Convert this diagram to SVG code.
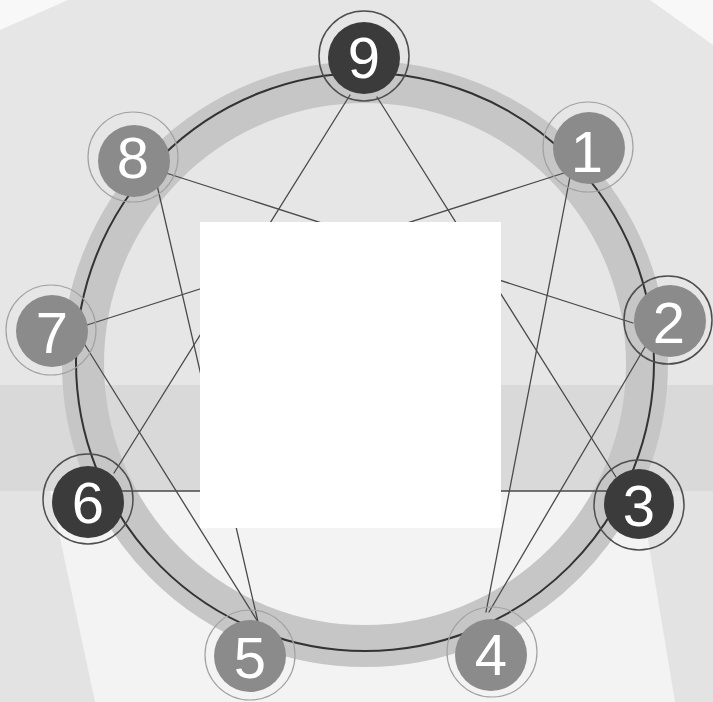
<svg xmlns="http://www.w3.org/2000/svg" width="713" height="702" viewBox="0 0 713 702">
<style>
.conn{stroke:#4a4a4a;stroke-width:1.3;fill:none;stroke-linecap:round}
.inner-dark{fill:#3b3b3b}
.inner-grey{fill:#8b8b8b}
.ring-dark{fill:none;stroke:#4e4e4e;stroke-width:1.5}
.ring-grey{fill:none;stroke:#a2a2a2;stroke-width:1.2}
.num{font-family:"Liberation Sans",Arial,sans-serif;font-size:58px;fill:#ffffff;text-anchor:middle}
</style>
<g id="background">
<rect x="0" y="0" width="713" height="702" fill="#e6e6e6"/>
<rect x="0" y="385" width="713" height="106" fill="#d9d9d9"/>
<rect x="0" y="491" width="713" height="211" fill="#f3f3f3"/>
<polygon points="0,491 50,491 95,702 0,702" fill="#e3e3e3"/>
<polygon points="640,491 713,491 713,702 675,702" fill="#e3e3e3"/>
<polygon points="0,0 68,0 0,30" fill="#f8f8f8"/>
<polygon points="650,0 713,0 713,45" fill="#f8f8f8"/>
</g>
<g id="ring">
<circle cx="365" cy="364" r="282" fill="none" stroke="#c6c6c6" stroke-width="42"/>
<circle cx="365" cy="362" r="289" fill="none" stroke="#333333" stroke-width="2"/>
</g>
<g id="connectors">
<line class="conn" x1="350" y1="95" x2="114" y2="473"/>
<line class="conn" x1="377" y1="97" x2="616" y2="477"/>
<line class="conn" x1="120" y1="491" x2="609" y2="491"/>
<line class="conn" x1="570" y1="177" x2="486" y2="612"/>
<line class="conn" x1="645" y1="347" x2="489" y2="612"/>
<line class="conn" x1="166" y1="173" x2="633" y2="323"/>
<line class="conn" x1="157" y1="185" x2="258" y2="622"/>
<line class="conn" x1="85" y1="345" x2="258" y2="622"/>
<line class="conn" x1="87" y1="325" x2="564" y2="173"/>
</g>
<rect id="blank" x="200" y="222" width="301" height="306" fill="#ffffff"/>
<g id="node-9">
<circle class="ring-dark" cx="364" cy="56" r="45"/>
<circle class="inner-dark" cx="364" cy="58" r="36"/>
<text class="num" x="364" y="78">9</text>
</g>
<g id="node-1">
<circle class="ring-grey" cx="588" cy="147" r="45"/>
<circle class="inner-grey" cx="589" cy="148" r="36"/>
<text class="num" x="587" y="172">1</text>
</g>
<g id="node-2">
<circle class="ring-dark" cx="668" cy="320" r="44"/>
<circle class="inner-grey" cx="670" cy="321" r="36"/>
<text class="num" x="669" y="343">2</text>
</g>
<g id="node-3">
<circle class="ring-dark" cx="639" cy="505" r="45"/>
<circle class="inner-dark" cx="639" cy="504" r="35"/>
<text class="num" x="639" y="526">3</text>
</g>
<g id="node-4">
<circle class="ring-grey" cx="492" cy="652" r="45"/>
<circle class="inner-grey" cx="491" cy="655" r="36"/>
<text class="num" x="491" y="675">4</text>
</g>
<g id="node-5">
<circle class="ring-grey" cx="250" cy="655" r="45"/>
<circle class="inner-grey" cx="250" cy="656" r="36"/>
<text class="num" x="250" y="678">5</text>
</g>
<g id="node-6">
<circle class="ring-dark" cx="88" cy="499" r="45"/>
<circle class="inner-dark" cx="88" cy="502" r="36"/>
<text class="num" x="88" y="523">6</text>
</g>
<g id="node-7">
<circle class="ring-grey" cx="51" cy="330" r="45"/>
<circle class="inner-grey" cx="52" cy="331" r="36"/>
<text class="num" x="52" y="353">7</text>
</g>
<g id="node-8">
<circle class="ring-grey" cx="133" cy="157" r="45"/>
<circle class="inner-grey" cx="134" cy="161" r="36"/>
<text class="num" x="133" y="178">8</text>
</g>
</svg>
